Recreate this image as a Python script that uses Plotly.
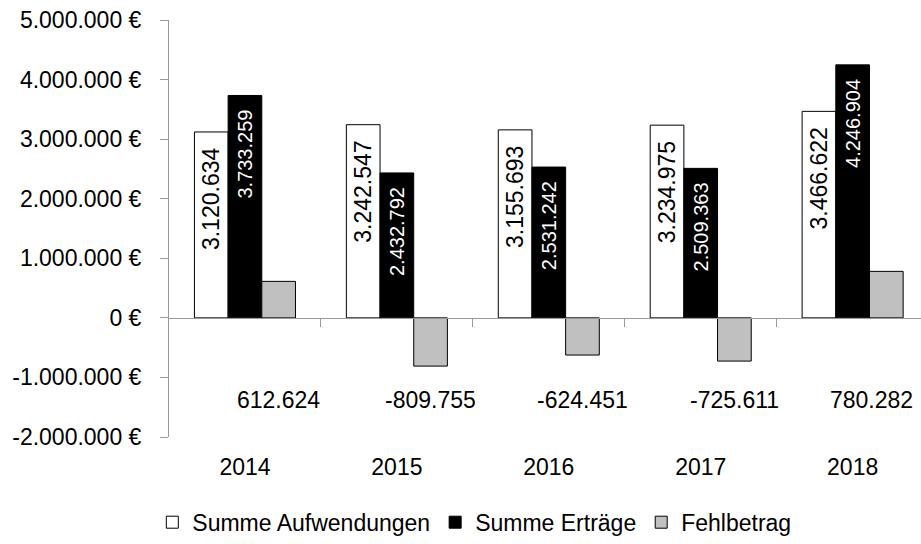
import plotly.graph_objects as go

years = ["2014", "2015", "2016", "2017", "2018"]
aufwendungen = [3120634, 3242547, 3155693, 3234975, 3466622]
ertraege = [3733259, 2432792, 2531242, 2509363, 4246904]
fehlbetrag = [612624, -809755, -624451, -725611, 780282]
y_ticks = [-2000000, -1000000, 0, 1000000, 2000000, 3000000, 4000000, 5000000]


def de(v):
    return f"{v:,}".replace(",", ".")


FONT = "Liberation Sans Narrow, Arial Narrow, Liberation Sans, Arial, sans-serif"
idx = list(range(len(years)))
y_min, y_max = -2000000, 5000000
x_range = [-0.5, 4.45]
PAD = "\u00a0\u00a0"

fig = go.Figure()
fig.add_trace(go.Bar(
    x=idx, y=aufwendungen, name="Summe Aufwendungen",
    marker=dict(color="white", line=dict(color="black", width=1)),
    text=[de(v) + PAD for v in aufwendungen], textposition="inside", textangle=-90,
    insidetextanchor="end", insidetextfont=dict(family=FONT, size=23, color="black"),
))
fig.add_trace(go.Bar(
    x=idx, y=ertraege, name="Summe Erträge",
    marker=dict(color="black", line=dict(color="black", width=1)),
    text=[de(v) + PAD for v in ertraege], textposition="inside", textangle=-90,
    insidetextanchor="end", insidetextfont=dict(family=FONT, size=20, color="white"),
))
fig.add_trace(go.Bar(
    x=idx, y=fehlbetrag, name="Fehlbetrag",
    marker=dict(color="#C0C0C0", line=dict(color="black", width=1)),
))

bargap = 0.335
bar_w = (1 - bargap) / 3
for i, v in enumerate(fehlbetrag):
    xa = i + bar_w
    anchor = "center"
    if i == len(fehlbetrag) - 1:
        xa = x_range[1] - 0.04
        anchor = "right"
    fig.add_annotation(x=xa, y=-1380000, xref="x", yref="y", text=de(v),
                       xanchor=anchor, showarrow=False,
                       font=dict(family=FONT, size=23, color="black"))

fig.update_layout(
    width=921, height=544,
    margin=dict(l=169, r=0, t=20, b=107),
    paper_bgcolor="white", plot_bgcolor="white",
    barmode="group", bargap=bargap, bargroupgap=0,
    font=dict(family=FONT, size=23, color="black"),
    showlegend=True,
    legend=dict(orientation="h", xref="container", yref="container",
                x=0.515, xanchor="center", y=0.04, yanchor="middle",
                font=dict(family=FONT, size=23, color="black"),
                itemwidth=30, traceorder="normal"),
    xaxis=dict(
        range=x_range, showticklabels=False, showgrid=False,
        zeroline=False, showline=True, linecolor="#999999", linewidth=1,
        ticks="outside", ticklen=8, tickcolor="#999999",
        tickvals=[i + 0.5 for i in idx[:-1]],
        anchor="free", position=(0 - y_min) / (y_max - y_min),
        type="linear", automargin=False,
    ),
    xaxis2=dict(
        overlaying="x", range=x_range, tickvals=idx, ticktext=years,
        side="bottom", anchor="y", showgrid=False, zeroline=False, showline=False,
        ticks="", ticklabelstandoff=14, automargin=False,
        tickfont=dict(family=FONT, size=23, color="black"),
    ),
    yaxis=dict(
        range=[y_min, y_max], tickvals=y_ticks, ticktext=[de(v) + " €" for v in y_ticks],
        showgrid=False, zeroline=False, showline=True, linecolor="#999999", linewidth=1,
        ticks="outside", ticklen=8, tickcolor="#999999", ticklabelstandoff=14,
        automargin=False, tickfont=dict(family=FONT, size=23, color="black"),
    ),
)
fig.add_trace(go.Scatter(x=[0], y=[0], xaxis="x2", mode="markers",
                         marker=dict(opacity=0), showlegend=False, hoverinfo="skip"))

fig.write_html("out.html", config={"displayModeBar": False},
               post_script="document.body.style.margin='0';")
